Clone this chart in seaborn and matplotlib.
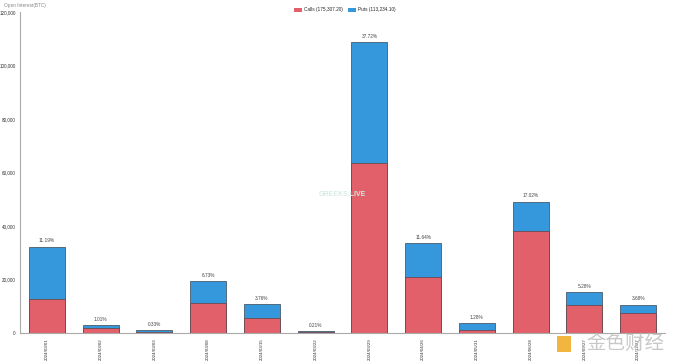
import matplotlib
matplotlib.use("Agg")
import matplotlib.pyplot as plt
import seaborn as sns
import pandas as pd
from matplotlib.patches import Patch, Rectangle
from matplotlib.ticker import FuncFormatter

dates = ["2024/03/01", "2024/03/02", "2024/03/03", "2024/03/08", "2024/03/15", "2024/03/22",
         "2024/03/29", "2024/04/26", "2024/05/31", "2024/06/28", "2024/09/27", "2024/12/27"]
calls = [12800, 1700, 400, 11300, 5700, 250, 63500, 20800, 1100, 38300, 10500, 7600]
puts = [19500, 1200, 550, 8100, 5150, 356, 45300, 12800, 2600, 10800, 4750, 3000]
pct_labels = ["11.19%", "1.01%", "0.33%", "6.73%", "3.76%", "0.21%",
              "37.72%", "11.64%", "1.28%", "17.02%", "5.28%", "3.68%"]
legend_labels = ["Calls (175,307.20)", "Puts (113,234.10)"]

sns.set_style("white")
plt.rcParams['font.family'] = ['Liberation Sans', 'DejaVu Sans', 'Noto Sans CJK SC']

df = pd.DataFrame({"date": dates, "calls": calls, "puts": puts})
df["total"] = df["calls"] + df["puts"]

fig = plt.figure(figsize=(6.8, 3.63), dpi=100)
ax = fig.add_axes([20/680, 30/363, 645/680, 321/363])

red = "#E2606A"
blue = "#3598DC"
sns.barplot(data=df, x="date", y="total", color=blue, saturation=1, width=0.67,
            edgecolor="#4a5a6a", linewidth=0.6, ax=ax, zorder=2)
sns.barplot(data=df, x="date", y="calls", color=red, saturation=1, width=0.67,
            edgecolor="#6a4a50", linewidth=0.6, ax=ax, zorder=2)

for i, (t, lab) in enumerate(zip(df["total"], pct_labels)):
    ax.text(i, t + 1200, lab, ha="center", va="bottom", fontsize=3.4, color="#444444")

ax.set_xlim(-0.5, 11.5)
ax.set_ylim(0, 120000)
ax.set_yticks([0, 20000, 40000, 60000, 80000, 100000, 120000])
ax.yaxis.set_major_formatter(FuncFormatter(lambda v, p: f"{int(v):,}"))
ax.set_xlabel("")
ax.set_ylabel("")
ax.tick_params(axis="y", labelsize=3.3, colors="#888888", length=2, width=0.5, pad=1)
ax.tick_params(axis="x", labelsize=3.2, colors="#888888", length=2, width=0.5, pad=2,
               labelrotation=90)
for lbl in ax.get_yticklabels() + ax.get_xticklabels():
    lbl.set_color("#333333")
for s in ["top", "right"]:
    ax.spines[s].set_visible(False)
for s in ["left", "bottom"]:
    ax.spines[s].set_color("#aaaaaa")
    ax.spines[s].set_linewidth(0.8)

fig.text(4/680, 1 - 5/363, "Open Interest(BTC)", fontsize=3.4, color="#888888", va="center")

handles = [Patch(facecolor=red, edgecolor="none"), Patch(facecolor=blue, edgecolor="none")]
fig.legend(handles, legend_labels, loc="center", bbox_to_anchor=(345/680, 1 - 10/363),
           ncol=2, fontsize=3.4, frameon=False, handlelength=1.6, handleheight=1.0,
           columnspacing=1.2, handletextpad=0.4)

fig.text(342/680, 1 - 195/363, "GREEKS.LIVE", fontsize=5, color="#d8ebe6",
         ha="center", va="center", fontweight="bold")
fig.patches.append(Rectangle((557/680, 1 - 352/363), 14/680, 16/363, transform=fig.transFigure,
                             facecolor="#F0A81E", edgecolor="none", alpha=0.85))
fig.text(625/680, 1 - 343/363, "金色财经", fontsize=14, color="#bbbbbb", ha="center", va="center",
         alpha=0.8, family=['Noto Sans CJK SC'])

fig.savefig("out.png", dpi=100)
